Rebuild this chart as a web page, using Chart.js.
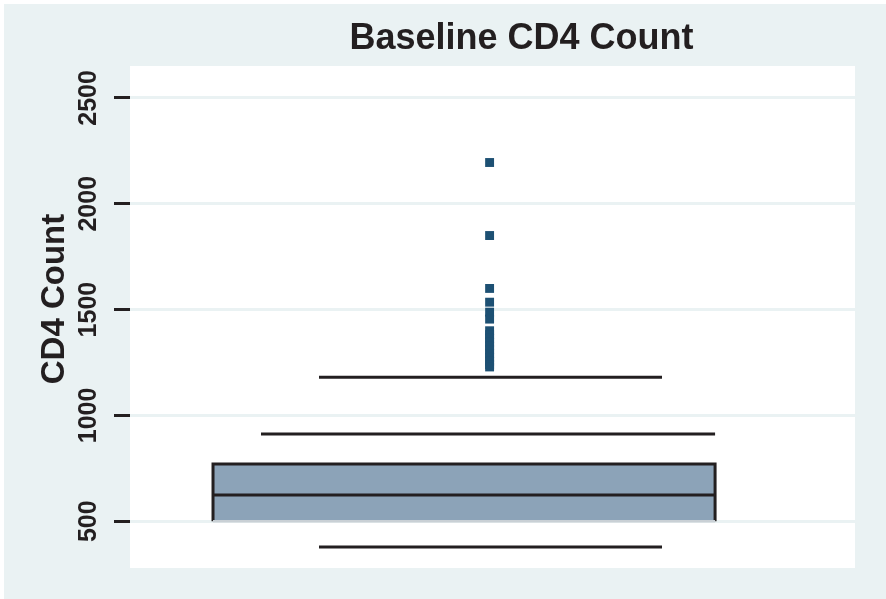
<!DOCTYPE html>
<html>
<head>
<meta charset="utf-8">
<script src="https://cdn.jsdelivr.net/npm/chart.js@4/dist/chart.umd.min.js"></script>
<style>
  html, body { margin: 0; padding: 0; background: #ffffff; }
  #wrap { position: absolute; left: 4px; top: 4px; width: 882px; height: 595px; background: #eaf2f3; }
  canvas { display: block; }
</style>
</head>
<body>
<div id="wrap"><canvas id="c" width="882" height="595"></canvas></div>
<script>
// ---- data ----
const chartTitle = 'Baseline CD4 Count';
const yAxisTitle = 'CD4 Count';
const yTickValues = [500, 1000, 1500, 2000, 2500];
const yRange = [279, 2651];
const boxQuartiles = [500, 624, 770];        // lower quartile, median, upper quartile
const upperMarks = [912, 1180];              // inner cap line, outer adjacent line
const lowerMarks = [378];                    // lower adjacent line
const outliers = [2195, 1850, 1600, 1535, 1488, 1455, 1400, 1382, 1364, 1346,
                  1328, 1310, 1292, 1274, 1256, 1240, 1229];

// ---- layout / style constants (horizontal positions as fraction of plot width) ----
const BOX_X = [0.1145, 0.807];
const CAP_X = [0.1807, 0.807];
const WHISKER_X = [0.2607, 0.7338];
const OUTLIER_X = 0.496;
const INK = '#231f20';
const FONT = "'Liberation Sans', Arial, Helvetica, sans-serif";
const TITLE_SHIFT = 92;
const YTITLE_SHIFT = -18;

function hLine(xr, y) { return [{x: xr[0], y: y}, {x: xr[1], y: y}]; }

const lineDs = (data, color, width) => ({
  data, showLine: true, borderColor: color, borderWidth: width,
  pointRadius: 0, pointHoverRadius: 0, fill: false, tension: 0
});

const [q1, med, q3] = boxQuartiles;

const datasets = [
  {
    data: outliers.map(v => ({x: OUTLIER_X, y: v})),
    showLine: false, pointStyle: 'rect', pointRadius: 6.3, pointHoverRadius: 6.3,
    backgroundColor: '#1d5073', borderColor: '#1d5073', pointBorderWidth: 0
  },
  lineDs(hLine(WHISKER_X, upperMarks[1]), INK, 3),
  lineDs(hLine(CAP_X, upperMarks[0]), INK, 3),
  lineDs(hLine(WHISKER_X, lowerMarks[0]), INK, 3),
  lineDs(hLine(BOX_X, med), INK, 3),
  lineDs(hLine(BOX_X, q1), '#c9d0d5', 2.5),
  {
    data: [{x: BOX_X[0], y: q1}, {x: BOX_X[0], y: q3}, {x: BOX_X[1], y: q3}, {x: BOX_X[1], y: q1}],
    showLine: true, borderColor: INK, borderWidth: 3, borderJoinStyle: 'miter',
    backgroundColor: '#8ca3b8', fill: {value: q1},
    pointRadius: 0, pointHoverRadius: 0, tension: 0
  }
];

const areaPlugin = {
  id: 'area',
  afterLayout(chart) {
    const t = chart.titleBlock;
    if (t) { t.left += TITLE_SHIFT; t.right += TITLE_SHIFT; }
    const ys = chart.scales.y;
    ys.top += YTITLE_SHIFT; ys.bottom += YTITLE_SHIFT;
  },
  beforeDraw(chart) {
    const {ctx, chartArea: a} = chart;
    ctx.save();
    ctx.fillStyle = '#ffffff';
    ctx.fillRect(a.left, a.top, a.right - a.left, a.bottom - a.top);
    ctx.restore();
  }
};

new Chart(document.getElementById('c'), {
  type: 'scatter',
  data: { datasets },
  plugins: [areaPlugin],
  options: {
    responsive: false,
    animation: false,
    devicePixelRatio: 1,
    layout: { padding: { left: 0, right: 31, top: 0, bottom: 31 } },
    plugins: {
      legend: { display: false },
      tooltip: { enabled: false },
      title: {
        display: true, text: chartTitle, color: INK,
        font: { family: FONT, size: 36, weight: 'bold', lineHeight: 1.2 },
        padding: { top: 13.4, bottom: 5.4 }
      }
    },
    scales: {
      x: { type: 'linear', min: 0, max: 1, display: false, offset: false },
      y: {
        type: 'linear', position: 'left', min: yRange[0], max: yRange[1],
        afterBuildTicks: (s) => { s.ticks = yTickValues.map(v => ({value: v})); },
        afterFit: (s) => { s.width = 126; s.paddingTop = 0; s.paddingBottom = 0; },
        border: { display: false },
        grid: { color: '#eaf2f3', lineWidth: 3, tickColor: INK, tickWidth: 3, tickLength: 16, drawTicks: true },
        ticks: {
          color: INK, font: { family: FONT, size: 25, weight: 'bold' },
          minRotation: 90, maxRotation: 90, crossAlign: 'center', padding: -3,
          callback: (v) => String(v)
        },
        title: {
          display: true, text: yAxisTitle, color: INK,
          font: { family: FONT, size: 33, weight: 'bold', lineHeight: 1.2 },
          padding: { top: 31, bottom: 0 }
        }
      }
    }
  }
});
</script>
</body>
</html>
